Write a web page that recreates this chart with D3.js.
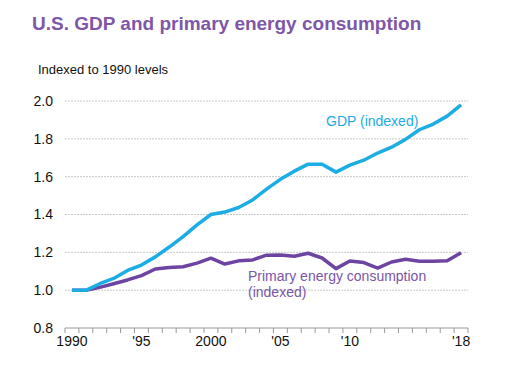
<!DOCTYPE html>
<html lang="en">
<head>
<meta charset="UTF-8">
<title>U.S. GDP and primary energy consumption</title>
<script src="https://d3js.org/d3.v7.min.js"></script>
<style>
    body { margin: 0; background: #fff; }
    text { font-family: "Liberation Sans", Arial, sans-serif; }
</style>
</head>
<body>
<script>

    // data, indexed to 1990 levels
    var years = d3.range(1990, 2019);
    var gdp = [1.000, 0.999, 1.034, 1.062, 1.104, 1.133, 1.176, 1.228, 1.283, 1.345,
               1.400, 1.413, 1.437, 1.477, 1.534, 1.586, 1.629, 1.666, 1.666, 1.624,
               1.661, 1.687, 1.725, 1.756, 1.797, 1.848, 1.878, 1.920, 1.980];
    var energy = [1.000, 0.999, 1.015, 1.034, 1.054, 1.077, 1.112, 1.120, 1.124, 1.143,
                  1.169, 1.138, 1.155, 1.160, 1.185, 1.186, 1.179, 1.195, 1.170, 1.114,
                  1.154, 1.146, 1.117, 1.149, 1.163, 1.153, 1.153, 1.155, 1.198];
    var yTicks = [0.8, 1.0, 1.2, 1.4, 1.6, 1.8, 2.0];
    var xLabels = {1990: "1990", 1995: "'95", 2000: "2000", 2005: "'05", 2010: "'10", 2018: "'18"};

    var width = 523, height = 365;
    var plotLeft = 65, plotRight = 468, plotTop = 101, plotBottom = 328;

    var gdpColor = "#1cade4";
    var energyColor = "#6e44a2";

    var svg = d3.select("body").append("svg")
        .attr("width", width)
        .attr("height", height);

    var x = d3.scaleBand().domain(years).range([plotLeft, plotRight]).padding(0);
    var y = d3.scaleLinear().domain([0.8, 2.0]).range([plotBottom, plotTop]);

    // title
    svg.append("text")
        .attr("x", 32).attr("y", 30)
        .attr("fill", "#7e57a9")
        .style("font-size", "19px")
        .style("font-weight", "bold")
        .text("U.S. GDP and primary energy consumption");

    svg.append("text")
        .attr("x", 38).attr("y", 74)
        .attr("fill", "#111")
        .style("font-size", "13px")
        .text("Indexed to 1990 levels");

    // gridlines
    svg.append("g")
        .selectAll("line")
        .data(yTicks.slice(1))
        .enter().append("line")
        .attr("x1", plotLeft).attr("x2", plotRight)
        .attr("y1", function(d) { return y(d); })
        .attr("y2", function(d) { return y(d); })
        .attr("stroke", "#c8c8c8")
        .attr("stroke-width", 1)
        .attr("stroke-dasharray", "2,1");

    // y axis labels
    var yAxis = svg.append("g")
        .attr("transform", "translate(" + plotLeft + ",0)")
        .call(d3.axisLeft(y).tickValues(yTicks).tickFormat(d3.format(".1f")).tickSize(0).tickPadding(12));
    yAxis.select(".domain").remove();
    yAxis.selectAll("text")
        .attr("fill", "#111")
        .style("font-size", "14px")
        .style("font-family", "'Liberation Sans', Arial, sans-serif");

    // x axis: ticks at band boundaries
    var xb = svg.append("g");
    xb.append("line")
        .attr("x1", plotLeft).attr("x2", plotRight)
        .attr("y1", plotBottom).attr("y2", plotBottom)
        .attr("stroke", "#9a9a9a");
    xb.selectAll("line.tick")
        .data(years.concat([2019]))
        .enter().append("line")
        .attr("class", "tick")
        .attr("x1", function(d) { return d === 2019 ? plotRight : x(d); })
        .attr("x2", function(d) { return d === 2019 ? plotRight : x(d); })
        .attr("y1", plotBottom).attr("y2", plotBottom + 5)
        .attr("stroke", "#9a9a9a");
    xb.selectAll("text")
        .data(years.filter(function(d) { return xLabels[d]; }))
        .enter().append("text")
        .attr("x", function(d) { return x(d) + x.bandwidth() / 2; })
        .attr("y", plotBottom + 18)
        .attr("text-anchor", "middle")
        .attr("fill", "#111")
        .style("font-size", "14px")
        .text(function(d) { return xLabels[d]; });

    // lines
    var line = d3.line()
        .x(function(d, i) { return x(years[i]) + x.bandwidth() / 2; })
        .y(function(d) { return y(d); });

    svg.append("path")
        .datum(energy)
        .attr("d", line)
        .attr("fill", "none")
        .attr("stroke", energyColor)
        .attr("stroke-width", 3.5)
        .attr("stroke-linejoin", "round");

    svg.append("path")
        .datum(gdp)
        .attr("d", line)
        .attr("fill", "none")
        .attr("stroke", gdpColor)
        .attr("stroke-width", 3.5)
        .attr("stroke-linejoin", "round");

    // labels
    svg.append("text")
        .attr("x", 326).attr("y", 126)
        .attr("fill", gdpColor)
        .style("font-size", "14px")
        .text("GDP (indexed)");

    var el = svg.append("text")
        .attr("x", 248).attr("y", 281)
        .attr("fill", "#7a55a8")
        .style("font-size", "14px");
    el.append("tspan").attr("x", 248).text("Primary energy consumption");
    el.append("tspan").attr("x", 248).attr("dy", 16).text("(indexed)");

</script>
</body>
</html>
